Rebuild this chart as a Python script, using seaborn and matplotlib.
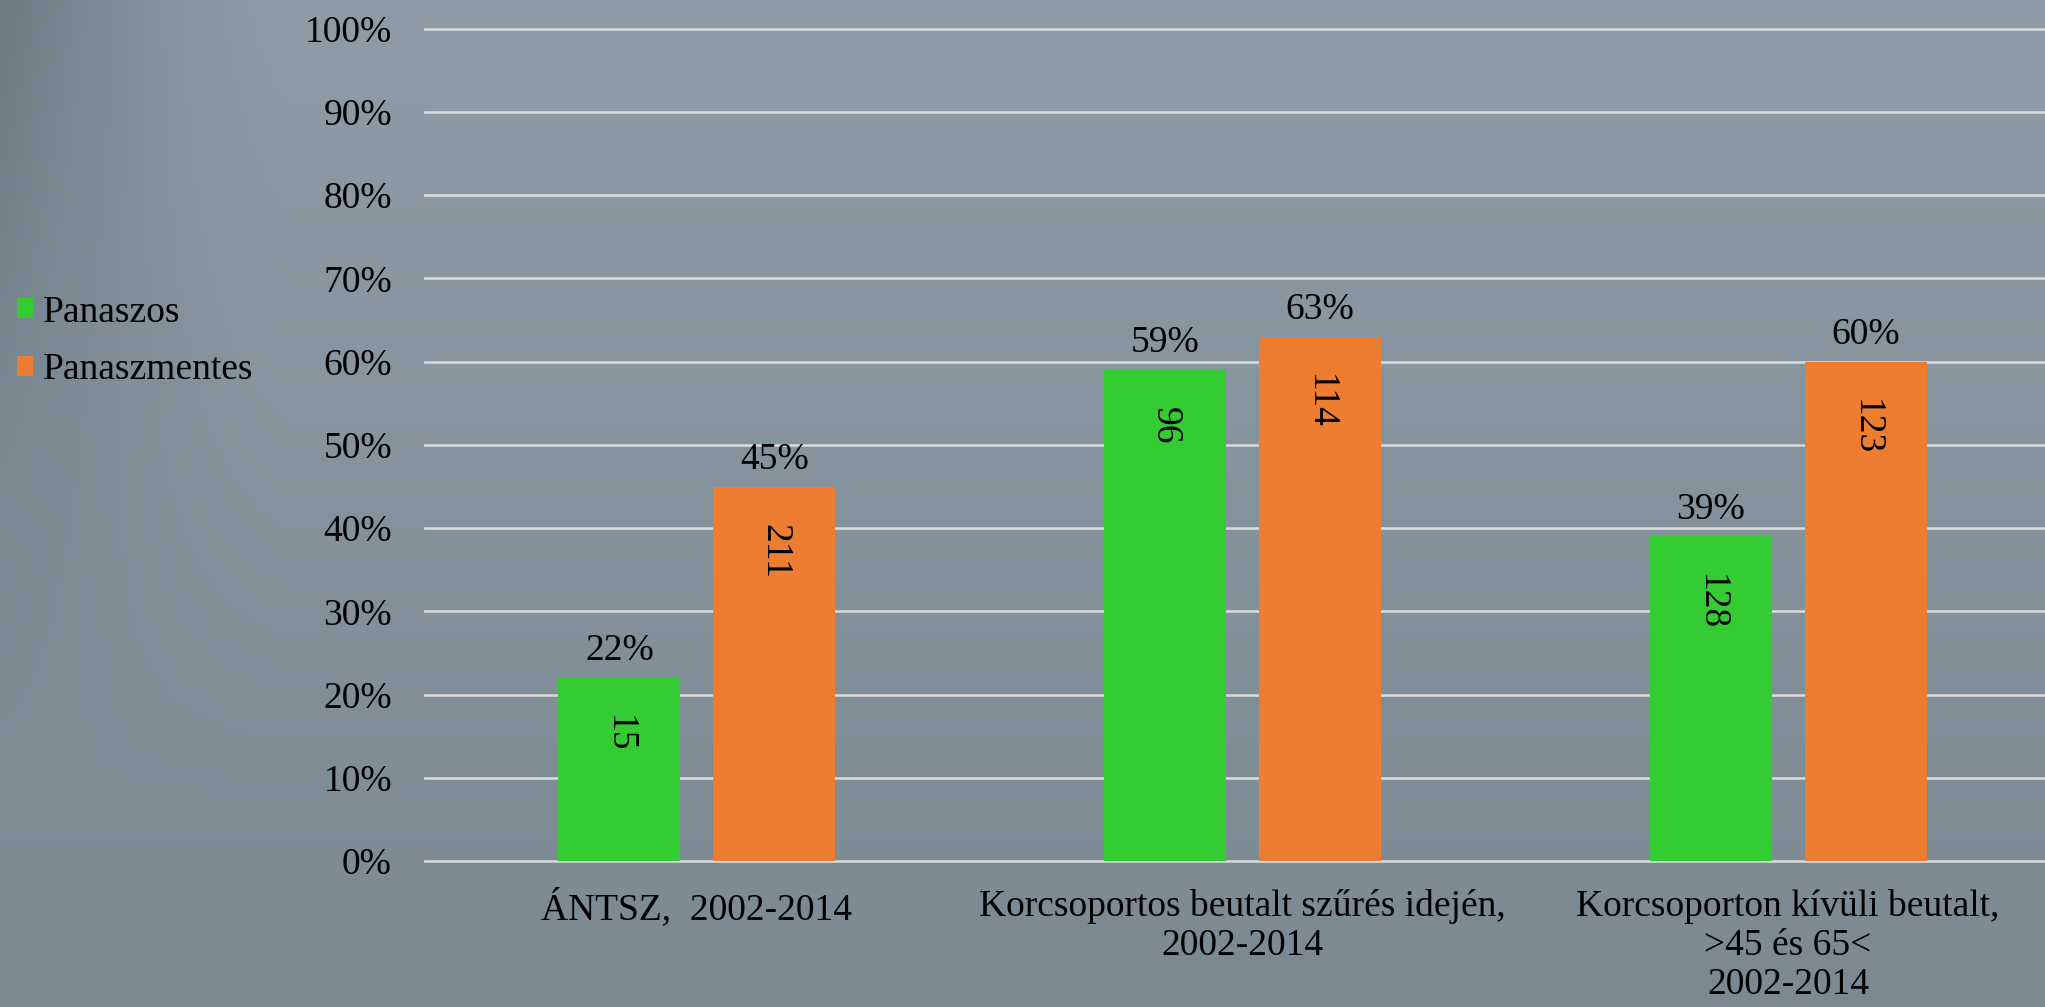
import numpy as np
import pandas as pd
import matplotlib
matplotlib.use("Agg")
import matplotlib.pyplot as plt
import seaborn as sns

# ---- data ----
categories = [
    "ÁNTSZ,  2002-2014",
    "Korcsoportos beutalt szűrés idején,\n2002-2014",
    "Korcsoporton kívüli beutalt,\n>45 és 65<\n2002-2014",
]
series_names = ["Panaszos", "Panaszmentes"]
panaszos_pct = [22, 59, 39]
panaszmentes_pct = [45, 63, 60]
panaszos_n = [15, 96, 128]
panaszmentes_n = [211, 114, 123]
y_ticks = [0, 10, 20, 30, 40, 50, 60, 70, 80, 90, 100]

df = pd.DataFrame({
    "cat": categories * 2,
    "series": [series_names[0]] * 3 + [series_names[1]] * 3,
    "pct": panaszos_pct + panaszmentes_pct,
})
counts = {series_names[0]: panaszos_n, series_names[1]: panaszmentes_n}
pcts = {series_names[0]: panaszos_pct, series_names[1]: panaszmentes_pct}

sns.set_theme(style="white")
plt.rcParams["font.family"] = ["Liberation Serif", "DejaVu Serif"]
FS = 27

W, H = 2045, 1007
fig = plt.figure(figsize=(W / 100, H / 100), dpi=100)

# ---- background gradient ----
bg = fig.add_axes([0, 0, 1, 1], zorder=-10)
yy, xx = np.mgrid[0:1:200j, 0:1:400j]
top = np.array([0x8d, 0x9c, 0xa6]) / 255
bot = np.array([0x7b, 0x89, 0x93]) / 255
dark = np.array([0x62, 0x70, 0x7a]) / 255
img = top[None, None, :] * (1 - yy[..., None]) + bot[None, None, :] * yy[..., None]
wl = np.clip(1 - xx / 0.14, 0, 1) ** 1.5 * np.clip(1 - yy / 0.8, 0, 1) * 0.75
img = img * (1 - wl[..., None]) + dark[None, None, :] * wl[..., None]
bg.imshow(img, aspect="auto", extent=[0, 1, 0, 1], interpolation="bilinear")
bg.set_axis_off()

# ---- main axes ----
ax = fig.add_axes([0.2073, 0.1367, 0.8005, 0.843])
ax.set_facecolor("none")
palette = {series_names[0]: "#33cc33", series_names[1]: "#ed7d31"}
sns.barplot(data=df, x="cat", y="pct", hue="series", palette=palette,
            width=0.568, gap=0.213, saturation=1, linewidth=0,
            ax=ax, zorder=3)

ax.set_ylim(-1, 101)
ax.set_yticks(y_ticks)
ax.set_yticklabels([f"{t}%" for t in y_ticks])
ax.set_xlabel("")
ax.set_ylabel("")
for s in ax.spines.values():
    s.set_visible(False)
ax.yaxis.grid(True, color="#dcdcdc", linewidth=1.8, zorder=0)
ax.xaxis.grid(False)
ax.set_axisbelow(True)
ax.tick_params(axis="y", length=0, pad=23, labelsize=FS, labelcolor="black")
ax.tick_params(axis="x", length=0, pad=14, labelsize=FS, labelcolor="black")
for lab in ax.get_xticklabels():
    lab.set_linespacing(1.17)

# ---- labels ----
for cont, name in zip(ax.containers, series_names):
    ax.bar_label(cont, labels=[f"{v}%" for v in pcts[name]], padding=7,
                 fontsize=FS, color="black")
    for bar, n in zip(cont, counts[name]):
        xc = bar.get_x() + bar.get_width() / 2
        ax.annotate(str(n), (xc, bar.get_height()), xytext=(0, -27),
                    textcoords="offset points", ha="center", va="top",
                    rotation=270, fontsize=FS, color="black", zorder=5)

# ---- legend ----
sns.move_legend(ax, loc="upper left", bbox_to_anchor=(0.0085, 0.707),
                bbox_transform=fig.transFigure, frameon=False, title=None,
                fontsize=FS, handlelength=0.42, handleheight=0.42,
                handletextpad=0.25, labelspacing=0.62, borderpad=0,
                borderaxespad=0, labelcolor="black")
for h in ax.get_legend().legend_handles:
    h.set_linewidth(0)

fig.savefig("out.png", dpi=100)
